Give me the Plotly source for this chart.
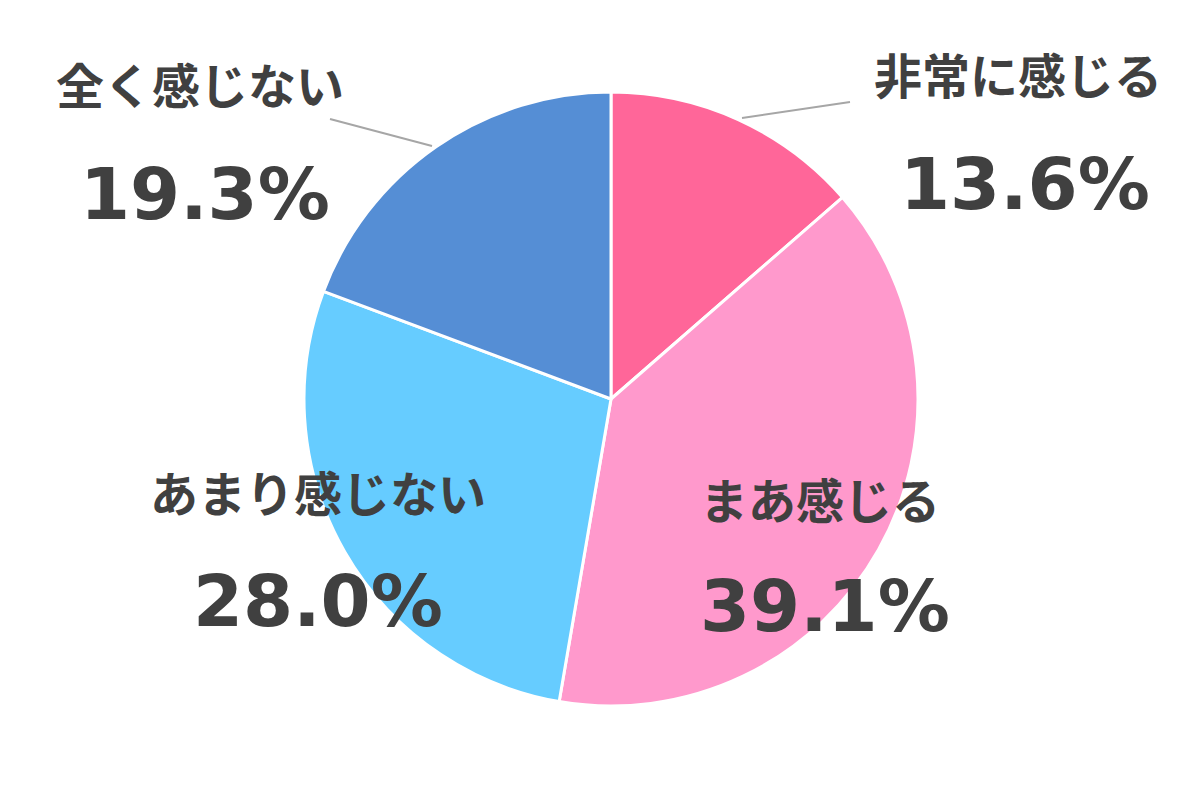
import plotly.graph_objects as go

labels = ["非常に感じる", "まあ感じる", "あまり感じない", "全く感じない"]
values = [13.6, 39.1, 28.0, 19.3]
colors = ["#FF6699", "#FF99CC", "#66CCFF", "#558ED5"]
label_pos = [(1018, 72), (820, 497), (318, 490), (200, 82)]
pct_pos = [(1025, 183), (825, 605), (318, 600), (205, 193)]

W, H = 1200, 800
DX, DY = -8, -7
def px(x): return (x + DX) / W
def py(y): return 1 - (y + DY) / H

fig = go.Figure(go.Pie(
    labels=labels, values=values, sort=False, direction="clockwise", rotation=0,
    marker=dict(colors=colors, line=dict(color="white", width=3)),
    textinfo="none", hoverinfo="label+percent", showlegend=False,
    domain=dict(x=[px(304), px(918)], y=[py(705), py(91)]),
))
ann = []
for lab, v, (lx, ly), (qx, qy) in zip(labels, values, label_pos, pct_pos):
    ann.append(dict(x=px(lx), y=py(ly), xref="paper", yref="paper", text=f"<b>{lab}</b>",
                    xanchor="center", yanchor="middle", showarrow=False,
                    font=dict(size=48, color="#404040", family="Noto Sans CJK JP")))
    ann.append(dict(x=px(qx), y=py(qy), xref="paper", yref="paper", text=f"<b>{v:.1f}%</b>",
                    xanchor="center", yanchor="middle", showarrow=False,
                    font=dict(size=72, color="#404040", family="DejaVu Sans")))
shapes = [
    dict(type="line", xref="paper", yref="paper", x0=px(742), y0=py(117), x1=px(850), y1=py(101),
         line=dict(color="#A6A6A6", width=2)),
    dict(type="line", xref="paper", yref="paper", x0=px(432), y0=py(145), x1=px(330), y1=py(118),
         line=dict(color="#A6A6A6", width=2)),
]
fig.update_layout(width=W, height=H, margin=dict(l=0, r=0, t=0, b=0),
                  paper_bgcolor="white", annotations=ann, shapes=shapes)
fig.write_html("out.html")
